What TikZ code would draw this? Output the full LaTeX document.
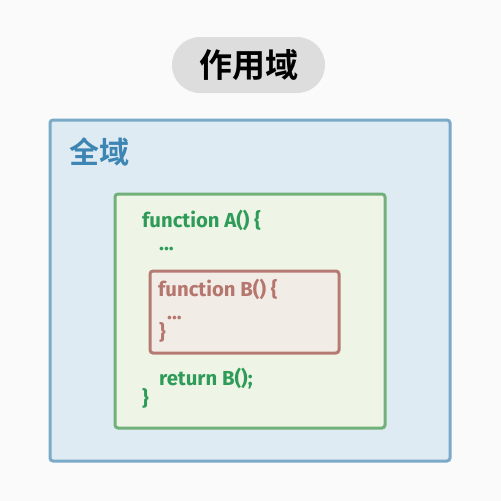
\documentclass[tikz,border=0pt]{standalone}
\usepackage{fontspec}
\setmainfont{Fira Sans}
\newfontfamily\cjk{Noto Sans CJK SC}[BoldFont={Noto Sans CJK SC Bold}]
\definecolor{bgc}{HTML}{FAFAFA}
\definecolor{pillc}{HTML}{DDDDDD}
\definecolor{outerfill}{HTML}{DFEBF3}
\definecolor{outerline}{HTML}{7BAAC9}
\definecolor{outertext}{HTML}{3D85B3}
\definecolor{greenfill}{HTML}{EFF5E6}
\definecolor{greenline}{HTML}{72B07A}
\definecolor{greentext}{HTML}{2E9C58}
\definecolor{redfill}{HTML}{F2ECE6}
\definecolor{redline}{HTML}{B57B73}
\definecolor{redtext}{HTML}{B5766E}
\begin{document}
\begin{tikzpicture}[x=1pt,y=-1pt,
  scopebox/.style={line width=3pt,rounded corners=3pt},
  code/.style={anchor=base west,inner sep=0pt,font=\fontsize{20.3}{22}\selectfont\bfseries},
  title/.style={inner sep=0pt,font=\cjk\bfseries}]
\fill[bgc] (0,0) rectangle (501,501);
\useasboundingbox (0,0) rectangle (501,501);
\node[fill=pillc,rounded corners=28pt,minimum width=153pt,minimum height=56pt,inner sep=0pt] (pill) at (248.5,65) {};
\node[title,font=\cjk\bfseries\fontsize{33}{36}\selectfont] (ttl) at (pill.center) {作用域};
\draw[scopebox,draw=outerline,fill=outerfill] (50,120) rectangle (450,461);
\node[title,anchor=west,text=outertext,font=\cjk\bfseries\fontsize{30}{32}\selectfont] (glob) at (69,152) {全域};
\draw[scopebox,draw=greenline,fill=greenfill] (115,194) rectangle (385,428);
\draw[scopebox,draw=redline,fill=redfill] (150,271) rectangle (339,353);
\node[code,text=greentext] (a1) at (142,227) {function A() \{};
\node[code,text=greentext] (a2) at (159,250) {...};
\node[code,text=redtext] (b1) at (158,296) {function B() \{};
\node[code,text=redtext] (b2) at (167,319) {...};
\node[code,text=redtext] (b3) at (159,339) {\}};
\node[code,text=greentext] (a3) at (159,385) {return B();};
\node[code,text=greentext] (a4) at (142,405) {\}};
\end{tikzpicture}
\end{document}
